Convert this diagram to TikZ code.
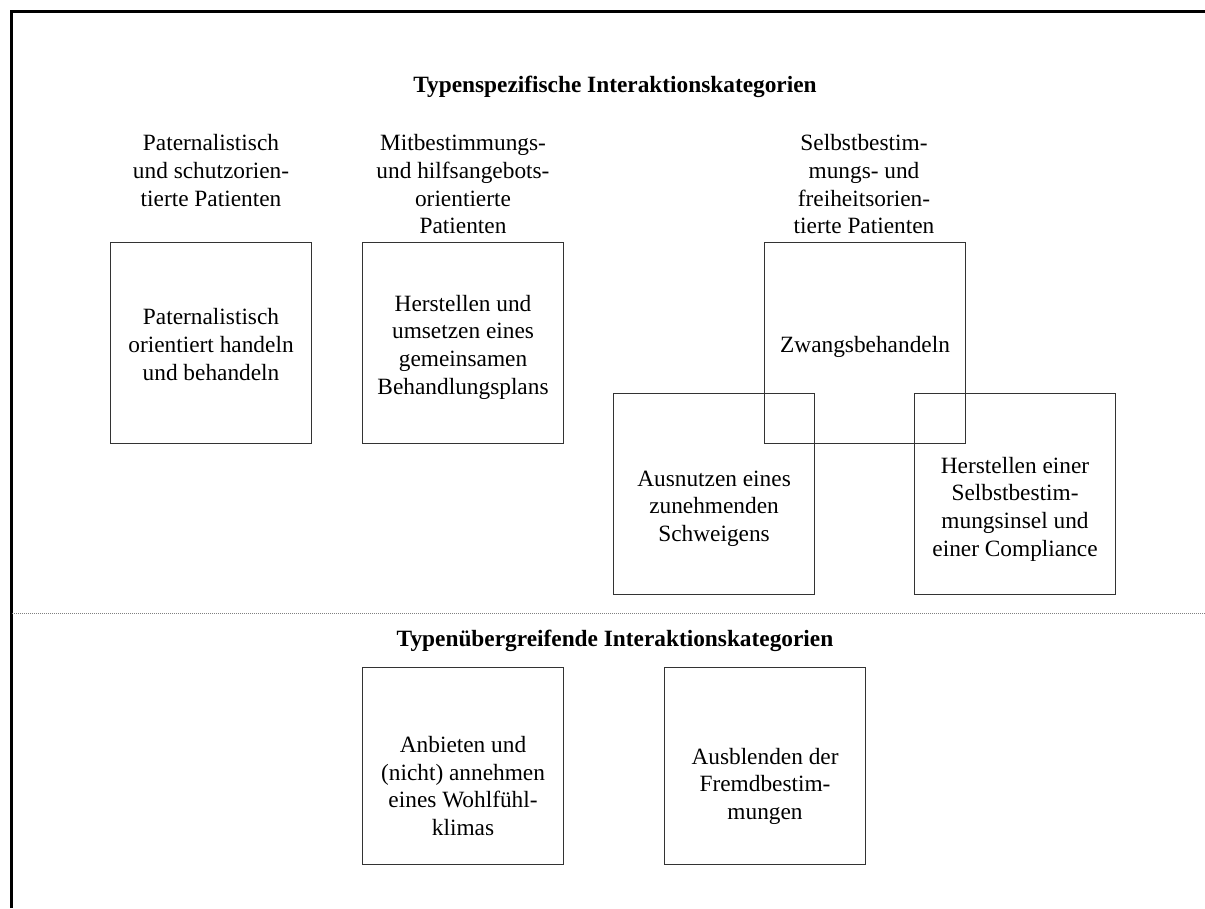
\documentclass[tikz,border=0pt]{standalone}
\usepackage{fontspec}
\setmainfont{Liberation Serif}
\usetikzlibrary{calc}
\begin{document}
\begin{tikzpicture}[x=0.75pt,y=-0.75pt,
  every node/.style={inner sep=0pt, align=center,
    font=\fontsize{17.5}{20.7}\selectfont},
  heading/.style={font=\fontsize{17.5}{20.7}\selectfont\bfseries, anchor=base},
  group/.style={anchor=north},
  catbox/.style={draw=black!80, line width=0.8pt, anchor=north west,
    minimum width=150.75pt, minimum height=150.75pt},
  lowbox/.style={catbox, minimum height=147.75pt},
  frame/.style={line width=1.6pt, black},
  divider/.style={gray, line width=0.75pt, dash pattern=on 0.75pt off 0.75pt}]
\useasboundingbox (0,0) rectangle (1205,908);

% outer frame (left and top edges) and the dotted divider
\coordinate (fbl) at (11.5,908);
\coordinate (ftl) at (11.5,11.5);
\coordinate (ftr) at (1205,11.5);
\draw[frame] (fbl) -- (ftl) -- (ftr);
\coordinate (dl) at (12,613.5);
\coordinate (dr) at (1205,613.5);
\draw[divider] (dl) -- (dr);

% upper section: type-specific categories
\node[heading] (t1) at (615,92) {Typenspezifische Interaktionskategorien};

\node[group] (g1) at (211,134.5) {Paternalistisch\\und schutzorien-\\tierte Patienten};
\node[group] (g2) at (463,134.5) {Mitbestimmungs-\\und hilfsangebots-\\orientierte\\Patienten};
\node[group] (g3) at (864,134.5) {Selbstbestim-\\mungs- und\\freiheitsorien-\\tierte Patienten};

\node[catbox] (b1) at (110,242) {};
\node[catbox] (b2) at (362,242) {};
\node[catbox] (b3) at (764,242) {};
\node[catbox] (b4) at (613,392.5) {};
\node[catbox] (b5) at (914,393) {};

\node (l1) at ($(b1.center)+(0,1.5)$) {Paternalistisch\\orientiert handeln\\und behandeln};
\node (l2) at ($(b2.center)+(0,4)$) {Herstellen und\\umsetzen eines\\gemeinsamen\\Behandlungsplans};
\node (l3) at ($(b3.center)+(0,4)$) {Zwangsbehandeln};
\node (l4) at ($(b4.center)+(0,15)$) {Ausnutzen eines\\zunehmenden\\Schweigens};
\node (l5) at ($(b5.center)+(0,15)$) {Herstellen einer\\Selbstbestim-\\mungsinsel und\\einer Compliance};

% lower section: cross-type categories
\node[heading] (t2) at (615,646) {Typenübergreifende Interaktionskategorien};

\node[lowbox] (b6) at (362,667) {};
\node[lowbox] (b7) at (664,667) {};

\node (l6) at ($(b6.center)+(0,20)$) {Anbieten und\\(nicht) annehmen\\eines Wohlfühl-\\klimas};
\node (l7) at ($(b7.center)+(0,20)$) {Ausblenden der\\Fremdbestim-\\mungen};
\end{tikzpicture}
\end{document}
